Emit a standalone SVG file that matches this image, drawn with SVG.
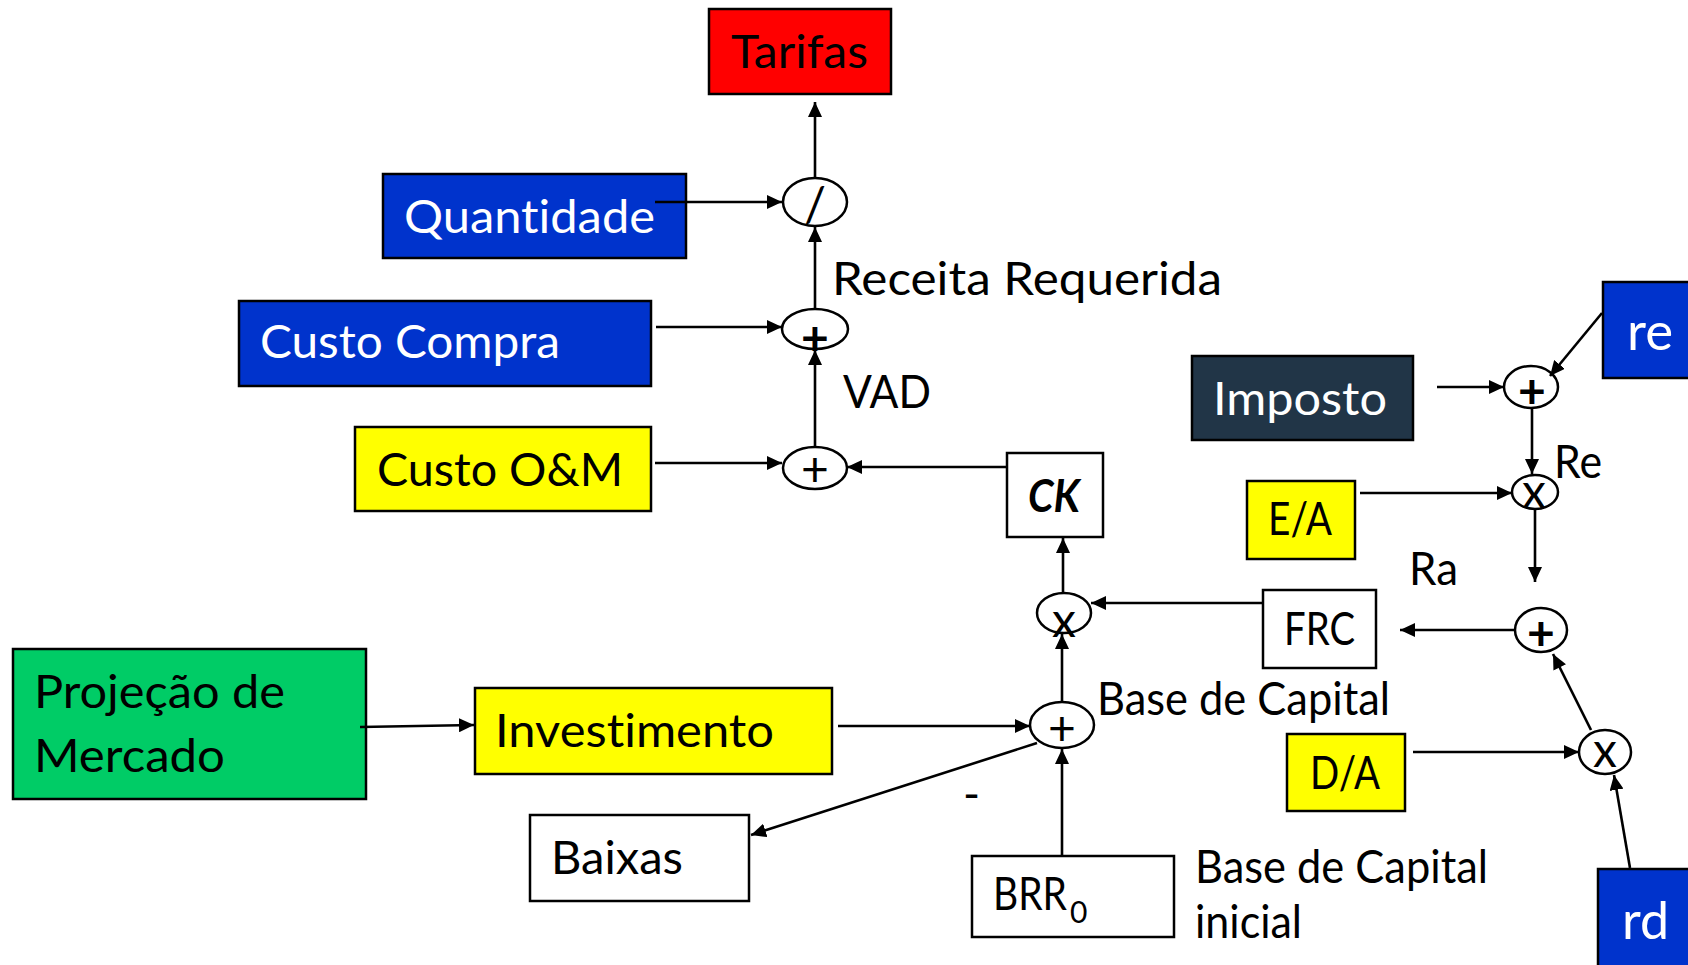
<svg xmlns="http://www.w3.org/2000/svg" width="1688" height="965" viewBox="0 0 1688 965">
<defs>
<marker id="ah" markerUnits="userSpaceOnUse" markerWidth="16" markerHeight="14" refX="15" refY="7" orient="auto">
<path d="M0,0 L15,7 L0,14 z" fill="#000"/>
</marker>
<style>
.box{stroke:#000;stroke-width:2.5}
.w{fill:#fff}
.blue{fill:#0033CC}
.yel{fill:#FFFF00}
.t{font-family:Lato,"Liberation Sans",sans-serif;font-size:46px;fill:#000;font-variant-ligatures:none}
.tw{fill:#fff}
.big{font-size:52px}
.op{fill:#fff;stroke:#000;stroke-width:2.5}
.sg{font-family:Lato,"Liberation Sans",sans-serif;font-size:48px;fill:#000;text-anchor:middle}
.sb{font-weight:bold}
.c line,.c path{stroke:#000;stroke-width:2.6;fill:none;marker-end:url(#ah)}
</style>
</defs>
<rect width="1688" height="965" fill="#fff"/>

<g id="tarifas"><rect class="box" x="709" y="9" width="182" height="85" fill="#FF0000"/><text class="t" x="731" y="68" textLength="137" lengthAdjust="spacingAndGlyphs">Tarifas</text></g>
<g id="quantidade"><rect class="box blue" x="383" y="174" width="303" height="84"/><text class="t tw" x="404" y="233" textLength="251" lengthAdjust="spacingAndGlyphs">Quantidade</text></g>
<g id="custo-compra"><rect class="box blue" x="239" y="301" width="412" height="85"/><text class="t tw" x="260" y="358" textLength="300" lengthAdjust="spacingAndGlyphs">Custo Compra</text></g>
<g id="custo-om"><rect class="box yel" x="355" y="427" width="296" height="84"/><text class="t" x="377" y="486" textLength="246" lengthAdjust="spacingAndGlyphs">Custo O&amp;M</text></g>
<g id="ck"><rect class="box w" x="1007" y="453" width="96" height="84"/><text class="t" x="1028" y="512" font-weight="bold" font-style="italic" textLength="52" lengthAdjust="spacingAndGlyphs">CK</text></g>
<g id="imposto"><rect class="box" x="1192" y="356" width="221" height="84" fill="#213547"/><text class="t tw" x="1213" y="415" textLength="174" lengthAdjust="spacingAndGlyphs">Imposto</text></g>
<g id="re"><rect class="box blue" x="1603" y="282" width="90" height="96"/><text class="t tw big" x="1627" y="350" textLength="46" lengthAdjust="spacingAndGlyphs">re</text></g>
<g id="ea"><rect class="box yel" x="1247" y="481" width="108" height="78"/><text class="t" x="1268" y="535" textLength="64" lengthAdjust="spacingAndGlyphs">E/A</text></g>
<g id="frc"><rect class="box w" x="1263" y="590" width="113" height="78"/><text class="t" x="1284" y="645" textLength="71" lengthAdjust="spacingAndGlyphs">FRC</text></g>
<g id="da"><rect class="box yel" x="1287" y="734" width="118" height="77"/><text class="t" x="1310" y="789" textLength="70" lengthAdjust="spacingAndGlyphs">D/A</text></g>
<g id="rd"><rect class="box blue" x="1598" y="869" width="95" height="100"/><text class="t tw big" x="1622" y="939" textLength="47" lengthAdjust="spacingAndGlyphs">rd</text></g>
<g id="projecao"><rect class="box" x="13" y="649" width="353" height="150" fill="#00CC66"/><text class="t" x="34" y="708" textLength="251" lengthAdjust="spacingAndGlyphs">Projeção de</text><text class="t" x="34" y="772" textLength="191" lengthAdjust="spacingAndGlyphs">Mercado</text></g>
<g id="investimento"><rect class="box yel" x="475" y="688" width="357" height="86"/><text class="t" x="495" y="747" textLength="279" lengthAdjust="spacingAndGlyphs">Investimento</text></g>
<g id="baixas"><rect class="box w" x="530" y="815" width="219" height="86"/><text class="t" x="551" y="874" textLength="132" lengthAdjust="spacingAndGlyphs">Baixas</text></g>
<g id="brr0"><rect class="box w" x="972" y="856" width="202" height="81"/><text class="t" x="993" y="910"><tspan textLength="74" lengthAdjust="spacingAndGlyphs">BRR</tspan><tspan font-size="30" dx="3" dy="13">0</tspan></text></g>

<g id="op-div"><ellipse class="op" cx="815" cy="202" rx="32" ry="24"/><text class="sg" x="815" y="222" font-size="34">/</text></g>
<g id="op-sum1"><ellipse class="op" cx="815" cy="329" rx="33" ry="20"/><text class="sg sb" x="815" y="355">+</text></g>
<g id="op-sum2"><ellipse class="op" cx="815" cy="468" rx="32" ry="21"/><text class="sg" x="815" y="486" font-size="44">+</text></g>
<g id="op-mulck"><ellipse class="op" cx="1064" cy="613" rx="27" ry="20"/><text class="sg" x="1064" y="637" font-size="46">x</text></g>
<g id="op-base"><ellipse class="op" cx="1062" cy="725" rx="32" ry="23"/><text class="sg" x="1062" y="745" font-size="44">+</text></g>
<g id="op-sumre"><ellipse class="op" cx="1531" cy="387" rx="27" ry="21"/><text class="sg sb" x="1532" y="408">+</text></g>
<g id="op-mulre"><ellipse class="op" cx="1535" cy="492" rx="23" ry="17"/><text class="sg" x="1534" y="508" font-size="48">x</text></g>
<g id="op-sumra"><ellipse class="op" cx="1541" cy="630" rx="26" ry="22"/><text class="sg sb" x="1541" y="650">+</text></g>
<g id="op-mulda"><ellipse class="op" cx="1605" cy="752" rx="26" ry="22"/><text class="sg" x="1605" y="767" font-size="42">x</text></g>

<g id="labels">
<text class="t" x="832" y="295" textLength="390" lengthAdjust="spacingAndGlyphs">Receita Requerida</text>
<text class="t" x="843" y="408" textLength="88" lengthAdjust="spacingAndGlyphs">VAD</text>
<text class="t" x="1554" y="478" textLength="48" lengthAdjust="spacingAndGlyphs">Re</text>
<text class="t" x="1409" y="585" textLength="49" lengthAdjust="spacingAndGlyphs">Ra</text>
<text class="t" x="1097" y="715" textLength="293" lengthAdjust="spacingAndGlyphs">Base de Capital</text>
<text class="t" x="963" y="810">-</text>
<text class="t" x="1195" y="883" textLength="293" lengthAdjust="spacingAndGlyphs">Base de Capital</text>
<text class="t" x="1195" y="938" textLength="107" lengthAdjust="spacingAndGlyphs">inicial</text>
</g>

<g id="connectors" class="c">
<line x1="815" y1="178" x2="815" y2="102"/>
<line x1="655" y1="202" x2="782" y2="202"/>
<line x1="815" y1="309" x2="815" y2="227"/>
<line x1="656" y1="327" x2="782" y2="327"/>
<line x1="815" y1="447" x2="815" y2="350"/>
<line x1="655" y1="463" x2="782" y2="463"/>
<line x1="1007" y1="467" x2="847" y2="467"/>
<line x1="1063" y1="594" x2="1063" y2="538"/>
<line x1="1262" y1="603" x2="1091" y2="603"/>
<line x1="1514" y1="630" x2="1400" y2="630"/>
<line x1="1535" y1="510" x2="1535" y2="582"/>
<line x1="1437" y1="387" x2="1504" y2="387"/>
<line x1="1602" y1="313" x2="1550" y2="376"/>
<line x1="1532" y1="408" x2="1532" y2="474"/>
<line x1="1360" y1="493" x2="1512" y2="493"/>
<line x1="1413" y1="752" x2="1579" y2="752"/>
<line x1="1591" y1="730" x2="1553" y2="654"/>
<line x1="1630" y1="868" x2="1614" y2="775"/>
<line x1="1062" y1="702" x2="1062" y2="634"/>
<line x1="1062" y1="856" x2="1062" y2="749"/>
<line x1="1037" y1="743" x2="751" y2="835"/>
<line x1="838" y1="726" x2="1030" y2="726"/>
<line x1="360" y1="727" x2="474" y2="725"/>
</g>
</svg>
